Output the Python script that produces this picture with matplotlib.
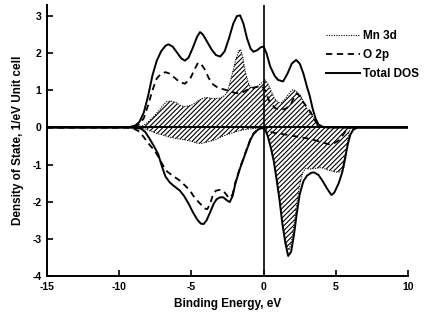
import matplotlib
matplotlib.use("Agg")
import matplotlib.pyplot as plt
from matplotlib.lines import Line2D

plt.rcParams['font.family'] = ['Liberation Sans', 'DejaVu Sans']
plt.rcParams['font.weight'] = 'bold'
plt.rcParams['hatch.linewidth'] = 0.8
plt.rcParams['axes.unicode_minus'] = False

# Total DOS, spin up / spin down
tot_up_x = [-15, -10, -9.3, -8.9, -8.6, -8.3, -8.0, -7.7, -7.4, -7.1, -6.8, -6.6, -6.3, -6.0, -5.7,
            -5.45, -5.2, -4.9, -4.6, -4.4, -4.2, -3.9, -3.6, -3.3, -3.0, -2.7, -2.4, -2.1, -1.85,
            -1.63, -1.4, -1.15, -0.9, -0.7, -0.45, -0.2, 0.0, 0.2, 0.45, 0.75, 1.0, 1.35, 1.65,
            1.95, 2.25, 2.5, 2.75, 3.0, 3.2, 3.4, 3.6, 3.8, 4.1, 4.5, 10]
tot_up_y = [0, 0, 0.01, 0.05, 0.15, 0.4, 0.85, 1.4, 1.8, 2.05, 2.2, 2.24, 2.18, 2.02, 1.86,
            1.80, 1.88, 2.15, 2.45, 2.57, 2.5, 2.3, 2.1, 1.95, 1.91, 2.05, 2.4, 2.8, 3.0,
            3.02, 2.8, 2.4, 2.12, 2.04, 2.08, 2.16, 2.18, 2.0, 1.65, 1.4, 1.28, 1.24, 1.45,
            1.72, 1.82, 1.72, 1.46, 1.1, 0.84, 0.5, 0.24, 0.08, 0.02, 0, 0]

tot_dn_x = [-15, -9.5, -9.0, -8.5, -8.2, -7.9, -7.6, -7.3, -7.0, -6.8, -6.5, -6.2, -5.8, -5.5,
            -5.2, -4.9, -4.6, -4.35, -4.15, -3.95, -3.7, -3.45, -3.25, -3.0, -2.8, -2.55, -2.35,
            -2.15, -1.95, -1.65, -1.4, -1.15, -0.9, -0.7, -0.4, -0.1, 0.1, 0.3, 0.5, 0.7, 0.9,
            1.1, 1.3, 1.5, 1.7, 1.9, 2.1, 2.3, 2.5, 2.75, 3.0, 3.3, 3.5, 3.8, 4.1, 4.4, 4.7,
            4.9, 5.2, 5.45, 5.65, 5.85, 6.0, 6.2, 6.5, 10]
tot_dn_y = [0, 0, -0.01, -0.03, -0.12, -0.3, -0.5, -0.72, -1.1, -1.32, -1.48, -1.58, -1.70, -1.85,
            -2.05, -2.28, -2.48, -2.59, -2.6, -2.5, -2.28, -2.05, -1.93, -1.88, -1.88, -1.96, -2.01,
            -1.85, -1.5, -1.12, -0.85, -0.58, -0.32, -0.18, -0.06, -0.01, -0.05, -0.25, -0.55, -0.9, -1.4,
            -1.95, -2.6, -3.1, -3.46, -3.35, -2.9, -2.3, -1.8, -1.45, -1.3, -1.22, -1.21, -1.28, -1.45, -1.65, -1.82,
            -1.75, -1.5, -1.2, -0.8, -0.42, -0.2, -0.06, 0, 0]

# O 2p partial DOS
o2p_up_x = [-15, -9.5, -9.0, -8.6, -8.3, -8.0, -7.7, -7.4, -7.1, -6.8, -6.5, -6.2, -5.8, -5.45,
            -5.1, -4.8, -4.55, -4.35, -4.1, -3.8, -3.5, -3.2, -2.8, -2.4, -2.0, -1.6, -1.2, -0.9,
            -0.5, -0.15, 0.1, 0.4, 0.8, 1.14, 1.5, 1.85, 2.1, 2.3, 2.5, 2.75, 3.0, 3.25, 3.45, 3.7,
            4.0, 4.4, 10]
o2p_up_y = [0, 0, 0.02, 0.08, 0.25, 0.6, 1.0, 1.32, 1.45, 1.49, 1.45, 1.35, 1.22, 1.18,
            1.3, 1.55, 1.74, 1.72, 1.58, 1.33, 1.16, 1.08, 1.03, 0.99, 0.93, 0.92, 1.0, 1.06,
            1.09, 1.12, 1.0, 0.7, 0.52, 0.48, 0.5, 0.6, 0.8, 0.92, 0.85, 0.68, 0.55, 0.42, 0.26, 0.1,
            0.02, 0, 0]

o2p_dn_x = [-15, -9.5, -9.0, -8.6, -8.3, -8.0, -7.6, -7.3, -7.0, -6.7, -6.3, -5.8, -5.4, -5.1,
            -4.8, -4.4, -4.1, -3.9, -3.7, -3.5, -3.3, -3.0, -2.8, -2.5, -2.35, -2.15, -1.95, -1.65,
            -1.4, -1.15, -0.9, -0.7, -0.4, -0.1, 0.3, 0.8, 1.7, 2.5, 3.1, 3.8, 4.5, 4.9, 5.2, 5.4,
            5.6, 5.75, 6.0, 10]
o2p_dn_y = [0, 0, -0.03, -0.11, -0.26, -0.42, -0.6, -0.78, -1.0, -1.18, -1.3, -1.43, -1.58, -1.7,
            -1.88, -2.05, -2.18, -2.2, -2.05, -1.8, -1.7, -1.68, -1.7, -1.85, -1.9, -1.8, -1.47, -1.1,
            -0.83, -0.56, -0.3, -0.16, -0.05, -0.01, -0.1, -0.15, -0.2, -0.26, -0.3, -0.37, -0.45, -0.42, -0.35, -0.26,
            -0.14, -0.05, 0, 0]

# Mn 3d partial DOS
mn_up_x = [-15, -9.0, -8.6, -8.3, -8.0, -7.6, -7.2, -6.9, -6.7, -6.4, -6.1, -5.8, -5.5, -5.2,
           -4.9, -4.6, -4.3, -4.0, -3.7, -3.4, -3.0, -2.7, -2.5, -2.3, -2.1, -1.9, -1.7, -1.6,
           -1.45, -1.3, -1.1, -0.95, -0.7, -0.45, -0.15, 0.1, 0.3, 0.5, 0.75, 1.0, 1.2, 1.45, 1.7,
           1.95, 2.1, 2.35, 2.55, 2.8, 3.0, 3.2, 3.45, 3.6, 3.8, 4.0, 10]
mn_up_y = [0, 0, 0.02, 0.06, 0.15, 0.3, 0.48, 0.63, 0.70, 0.71, 0.68, 0.6, 0.56, 0.58,
           0.62, 0.7, 0.77, 0.81, 0.79, 0.78, 0.79, 0.86, 0.97, 1.25, 1.55, 1.87, 2.07, 2.1,
           1.9, 1.55, 1.25, 1.1, 1.05, 1.1, 1.2, 1.28, 1.18, 1.0, 0.78, 0.68, 0.66, 0.75, 0.88,
           1.0, 1.02, 0.94, 0.86, 0.66, 0.5, 0.4, 0.28, 0.15, 0.04, 0, 0]

mn_dn_x = [-15, -9.0, -8.5, -8.2, -7.8, -7.4, -7.0, -6.5, -6.0, -5.5, -5.0, -4.6, -4.3, -4.0,
           -3.6, -3.3, -3.0, -2.6, -2.2, -1.8, -1.4, -1.0, -0.5, 0.0, 0.2, 0.4, 0.6, 0.8, 1.0,
           1.2, 1.4, 1.6, 1.75, 1.9, 2.1, 2.3, 2.5, 2.7, 2.9, 3.2, 3.6, 4.0, 4.5, 5.0, 5.3, 5.55,
           5.7, 5.8, 5.9, 6.0, 6.2, 10]
mn_dn_y = [0, 0, -0.01, -0.04, -0.1, -0.16, -0.2, -0.26, -0.3, -0.33, -0.37, -0.42, -0.43, -0.4,
           -0.36, -0.32, -0.26, -0.2, -0.15, -0.1, -0.06, -0.04, -0.02, -0.02, -0.1, -0.35, -0.7, -1.15, -1.65,
           -2.25, -2.8, -3.2, -3.3, -3.15, -2.65, -2.05, -1.55, -1.22, -1.1, -1.12, -1.1, -1.08, -1.15, -1.2, -1.2, -1.1,
           -0.8, -0.45, -0.15, -0.03, 0, 0]

fig = plt.figure(figsize=(4.29, 3.20), dpi=100)
ax = fig.add_axes([0.1096, 0.1375, 0.8415, 0.847])

# hatched Mn 3d areas
ax.fill_between(mn_up_x, 0, mn_up_y, facecolor='none', edgecolor='black', hatch='///////', linewidth=0)
ax.fill_between(mn_dn_x, 0, mn_dn_y, facecolor='none', edgecolor='black', hatch='///////', linewidth=0)

ax.plot(mn_up_x, mn_up_y, color='black', lw=0.8, ls=(0, (1, 1.2)))
ax.plot(mn_dn_x, mn_dn_y, color='black', lw=0.8, ls=(0, (1, 1.2)))
ax.plot(o2p_up_x, o2p_up_y, color='black', lw=1.3, ls=(0, (3.5, 2.5)))
ax.plot(o2p_dn_x, o2p_dn_y, color='black', lw=1.3, ls=(0, (3.5, 2.5)))
ax.plot(tot_up_x, tot_up_y, color='black', lw=1.4)
ax.plot(tot_dn_x, tot_dn_y, color='black', lw=1.4)

ax.axhline(0, color='black', lw=1.4)
ax.axvline(0, color='black', lw=1.2)

ax.set_xlim(-15, 10)
ax.set_ylim(-4, 3.3)
ax.set_xticks([-15, -10, -5, 0, 5, 10])
ax.set_yticks([-4, -3, -2, -1, 0, 1, 2, 3])
for s in ['top', 'right']:
    ax.spines[s].set_visible(False)
for s in ['left', 'bottom']:
    ax.spines[s].set_linewidth(1.4)
ax.tick_params(direction='in', length=4, width=1.2, labelsize=7.5, pad=4)
for lab in ax.get_xticklabels() + ax.get_yticklabels():
    lab.set_fontweight('bold')

ax.set_xlabel('Binding Energy, eV', fontsize=8.5, fontweight='bold', labelpad=5)
ax.set_ylabel('Density of State, 1/eV Unit cell', fontsize=8.5, fontweight='bold', labelpad=6)

handles = [Line2D([], [], color='black', lw=0.8, ls=(0, (1, 1.2))),
           Line2D([], [], color='black', lw=1.3, ls=(0, (3.5, 2.5))),
           Line2D([], [], color='black', lw=1.4)]
ax.legend(handles, ['Mn 3d', 'O 2p', 'Total DOS'], loc='upper left',
          bbox_to_anchor=(326 / 429, 1 - 30 / 320), bbox_transform=fig.transFigure,
          frameon=False, handlelength=2.9, handletextpad=0.25,
          borderpad=0, borderaxespad=0, labelspacing=0.6,
          prop={'weight': 'bold', 'size': 8.5})

fig.savefig('out.png', dpi=100)
